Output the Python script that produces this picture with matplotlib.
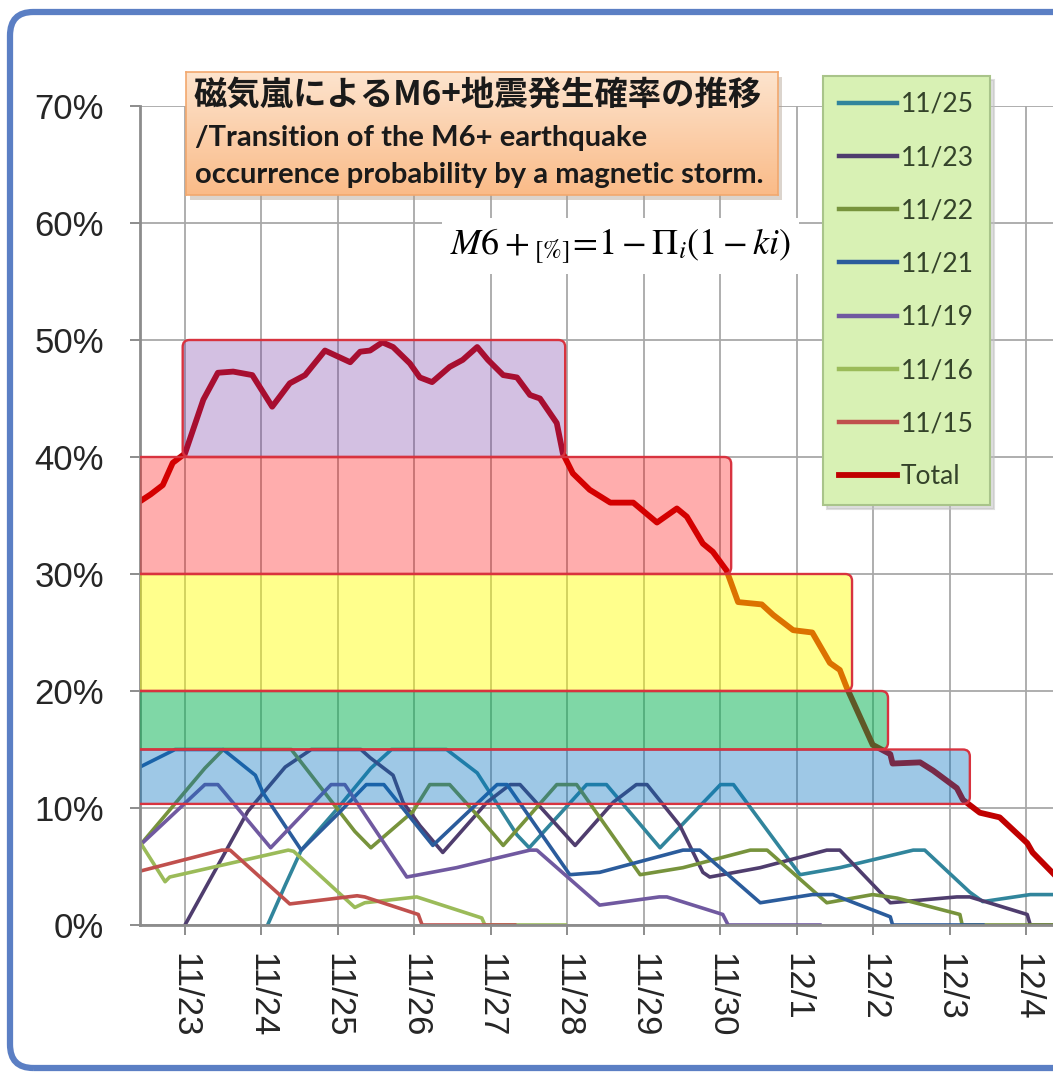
import matplotlib
matplotlib.use('Agg')
import matplotlib.pyplot as plt
import numpy as np
from matplotlib.patches import FancyBboxPatch, Rectangle


# x values are days counted from 11/23 00:00
day_ticks = list(range(12))
day_labels = ['11/23', '11/24', '11/25', '11/26', '11/27', '11/28',
              '11/29', '11/30', '12/1', '12/2', '12/3', '12/4']
pct_ticks = [0, 10, 20, 30, 40, 50, 60, 70]

total_x = [-0.59, -0.45, -0.29, -0.16, 0.0, 0.24, 0.43, 0.63, 0.88, 1.14,
           1.37, 1.57, 1.83, 2.16, 2.29, 2.42, 2.58, 2.72, 2.94, 3.07,
           3.23, 3.46, 3.63, 3.82, 3.96, 4.16, 4.34, 4.51, 4.64, 4.86,
           4.94, 5.07, 5.29, 5.56, 5.86, 6.17, 6.43, 6.56, 6.77, 6.90,
           7.08, 7.23, 7.54, 7.69, 7.95, 8.20, 8.43, 8.56, 8.65, 8.99,
           9.22, 9.25, 9.61, 9.78, 10.09, 10.17, 10.39, 10.65, 11.01, 11.08,
           11.35]
total_y = [36.2, 36.8, 37.6, 39.5, 40.3, 44.9, 47.2, 47.3, 47.0, 44.3,
           46.3, 47.0, 49.1, 48.1, 49.0, 49.1, 49.8, 49.4, 48.0, 46.8,
           46.4, 47.7, 48.3, 49.4, 48.3, 47.0, 46.8, 45.3, 45.0, 42.9,
           40.3, 38.6, 37.2, 36.1, 36.1, 34.4, 35.6, 34.9, 32.6, 31.9,
           30.3, 27.6, 27.4, 26.5, 25.2, 25.0, 22.4, 21.8, 20.3, 15.4,
           14.6, 13.8, 13.9, 13.2, 11.7, 10.7, 9.6, 9.2, 7.0, 6.2,
           4.4]

x_1125 = [1.08, 1.31, 1.52, 2.0, 2.43, 2.7, 3.42, 3.82, 4.34, 4.5, 5.25, 5.51,
          6.21, 7.0, 7.17, 8.04, 8.56, 9.52, 9.67, 10.26, 10.43, 11.05, 11.35]
y_1125 = [0, 3.4, 6.4, 10.0, 13.4, 15, 15, 13, 7.7, 6.6, 12, 12,
          6.6, 12, 12, 4.3, 4.9, 6.4, 6.4, 2.8, 2.0, 2.6, 2.6]

x_1123 = [0.0, 0.82, 1.31, 1.65, 2.3, 2.42, 2.72, 2.85, 3.07, 3.37, 3.95, 4.25,
          4.38, 5.1, 5.6, 5.9, 6.04, 6.47, 6.77, 6.86, 7.52, 8.39, 8.56, 9.22,
          10.09, 10.26, 11.01, 11.05, 11.35]
y_1123 = [0, 9.7, 13.5, 15, 15, 14.3, 12.8, 10.5, 8.5, 6.2, 10.5, 12,
          12, 6.8, 10.5, 12, 12, 8.5, 4.5, 4.1, 4.9, 6.4, 6.4, 1.9,
          2.4, 2.4, 0.9, 0, 0]

x_1122 = [-0.59, 0.26, 0.5, 1.39, 2.22, 2.43, 2.98, 3.2, 3.46, 3.86, 4.16,
          4.86, 5.12, 5.95, 6.51, 7.39, 7.61, 8.39, 8.99, 9.31, 10.13, 10.16,
          11.35]
y_1122 = [6.8, 13.4, 15, 15, 8, 6.6, 9.7, 12, 12, 9.1, 6.8,
          12, 12, 4.3, 4.9, 6.4, 6.4, 1.9, 2.6, 2.3, 0.9, 0,
          0]

x_1121 = [-0.59, -0.13, 0.5, 0.92, 1.02, 1.52, 2.0, 2.37, 2.6, 3.24, 4.08,
          4.21, 5.03, 5.42, 6.51, 6.73, 7.52, 8.2, 8.47, 9.22, 9.25, 10.43]
y_1121 = [13.5, 15, 15, 12.8, 11.3, 6.4, 9.5, 12, 12, 6.8, 12,
          12, 4.3, 4.5, 6.4, 6.4, 1.9, 2.6, 2.6, 0.7, 0, 0]

x_1119 = [-0.59, 0.26, 0.43, 1.12, 1.91, 2.09, 2.9, 3.55, 4.51, 4.6, 5.42,
          6.2, 6.3, 7.03, 7.1, 8.3]
y_1119 = [6.8, 12, 12, 6.6, 12, 12, 4.1, 4.9, 6.4, 6.4, 1.7,
          2.4, 2.4, 0.9, 0, 0]

x_1116 = [-0.59, -0.26, -0.2, 1.35, 1.42, 2.22, 2.35, 3.03, 3.88, 3.92, 4.97]
y_1116 = [7.1, 3.7, 4.1, 6.4, 6.3, 1.5, 1.9, 2.4, 0.6, 0, 0]

x_1115 = [-0.59, 0.48, 0.59, 1.37, 2.25, 2.35, 3.05, 3.1, 4.31]
y_1115 = [4.6, 6.4, 6.4, 1.8, 2.5, 2.4, 0.9, 0, 0]

series_names = ['11/25', '11/23', '11/22', '11/21', '11/19', '11/16', '11/15']
series_colors = ['#31859C', '#4F3D6E', '#77933C', '#2B5C9C', '#7059A0',
                 '#9BBB59', '#C0504D']
series_x = [x_1125, x_1123, x_1122, x_1121, x_1119, x_1116, x_1115]
series_y = [y_1125, y_1123, y_1122, y_1121, y_1119, y_1116, y_1115]

# probability bands
band_low = [40, 30, 20, 15, 10.35]
band_high = [50, 40, 30, 20, 15]
band_start = [-0.03, -1.0, -1.0, -1.0, -1.0]
band_end = [4.97, 7.14, 8.72, 9.19, 10.26]
band_colors = [(0.44, 0.19, 0.63, 0.30), (1.0, 0.0, 0.0, 0.32),
               (1.0, 1.0, 0.0, 0.45), (0.0, 0.69, 0.31, 0.50),
               (0.0, 0.44, 0.75, 0.38)]

W, H = 1053, 1074


def px_x(x):
    return x / W


def px_y(y):
    return 1 - y / H


def draw_graph():
    plt.rcParams['font.family'] = ['Noto Sans CJK JP', 'DejaVu Sans']
    plt.rcParams['mathtext.fontset'] = 'stix'

    fig = plt.figure(figsize=(W / 100, H / 100), dpi=100)
    ax = fig.add_axes([px_x(140), px_y(925), (W - 140) / W, (925 - 106) / H])

    handles = []
    for name, color, xs, ys in zip(series_names, series_colors, series_x, series_y):
        line, = ax.plot(xs, ys, color=color, lw=2.6, zorder=2,
                        solid_joinstyle='round', label=name)
        handles.append(line)
    tot, = ax.plot(total_x, total_y, color='#C00000', lw=4.2, zorder=2.5,
                   solid_joinstyle='round', label='Total')
    handles.append(tot)

    aspect = 76.5 / 11.7
    for lo, hi, x0, x1, c in zip(band_low, band_high, band_start, band_end, band_colors):
        box = FancyBboxPatch((x0, lo), x1 - x0, hi - lo,
                             boxstyle='round,pad=0,rounding_size=0.09',
                             mutation_aspect=aspect, facecolor=c,
                             edgecolor='#D8333F', lw=1.7, zorder=3)
        ax.add_patch(box)

    ax.set_xlim(-0.588, 11.347)
    ax.set_ylim(0, 70)
    ax.set_xticks(day_ticks)
    ax.set_xticklabels(day_labels, rotation=-90, fontsize=25,
                       family='Liberation Sans', color='#262626')
    ax.set_yticks(pct_ticks)
    ax.set_yticklabels(['%d%%' % v for v in pct_ticks], fontsize=25,
                       family='Liberation Sans', color='#262626')
    ax.tick_params(axis='x', length=7, width=1.4, color='#8C8C8C', pad=13)
    ax.tick_params(axis='y', length=7, width=1.4, color='#8C8C8C', pad=19)
    ax.grid(True, color='#A8A8A8', lw=1.3)
    ax.set_axisbelow(True)
    for s in ['top', 'right']:
        ax.spines[s].set_visible(False)
    for s in ['left', 'bottom']:
        ax.spines[s].set_color('#8C8C8C')
        ax.spines[s].set_linewidth(2)

    leg = ax.legend(handles=handles, loc='upper left',
                    bbox_to_anchor=(px_x(823), px_y(76)),
                    bbox_transform=fig.transFigure, borderaxespad=0,
                    prop={'family': 'Lato', 'size': 19}, labelcolor='#34432A',
                    handlelength=2.2, handletextpad=0.15, labelspacing=1.07,
                    borderpad=0.6, fancybox=False, framealpha=1,
                    facecolor='#D8F1B4', edgecolor='#A9C48A',
                    shadow={'ox': 3, 'oy': -3, 'color': '0.75'})
    leg.get_frame().set_linewidth(1.5)
    for h in leg.legend_handles:
        h.set_linewidth(4.2 if h.get_label() == 'Total' else 3.2)

    # title box with gradient and shadow
    tx0, ty0, tw, th = px_x(186), px_y(195), 592 / W, 123 / H
    fig.patches.append(Rectangle((tx0 + 4 / W, ty0 - 5 / H), tw, th,
                                 transform=fig.transFigure, facecolor='#B0A090',
                                 alpha=0.45, edgecolor='none', zorder=4))
    tax = fig.add_axes([tx0, ty0, tw, th], zorder=5)
    grad = np.linspace(0, 1, 100).reshape(-1, 1)
    top_c = np.array([253, 228, 206]) / 255
    bot_c = np.array([250, 187, 136]) / 255
    img = top_c + (bot_c - top_c) * grad[:, :, None]
    tax.imshow(img, aspect='auto', extent=[0, 1, 0, 1])
    tax.set_xticks([])
    tax.set_yticks([])
    for s in tax.spines.values():
        s.set_color('#F2A86E')
        s.set_linewidth(1.2)

    fig.text(px_x(194), px_y(96), '磁気嵐によるM6+地震発生確率の推移',
             fontsize=24, weight='bold', va='center', ha='left', zorder=6,
             color='#1A1A1A')
    fig.text(px_x(195), px_y(138), '/Transition of the M6+ earthquake',
             fontsize=21, weight='bold', va='center', ha='left', zorder=6,
             family='Lato', color='#1A1A1A')
    fig.text(px_x(195), px_y(175), 'occurrence probability by a magnetic storm.',
             fontsize=21, weight='bold', va='center', ha='left', zorder=6,
             family='Lato', color='#1A1A1A')

    fig.text(px_x(450), px_y(246), r'$M6+_{[\%]}\!=\!1-\Pi_{i}(1-ki)$',
             fontsize=26, va='center', ha='left', zorder=6, color='black',
             bbox=dict(facecolor='white', edgecolor='none', pad=6))

    # outer chart border
    fig.patches.append(FancyBboxPatch((px_x(10), px_y(1068)), 1.2, (1068 - 12) / H,
                                      boxstyle='round,pad=0,rounding_size=0.022',
                                      transform=fig.transFigure, facecolor='none',
                                      edgecolor='#5B7FC4', lw=4.5, zorder=7))

    fig.savefig('out.png', dpi=100)


def main():
    draw_graph()


if __name__ == "__main__":
    main()
